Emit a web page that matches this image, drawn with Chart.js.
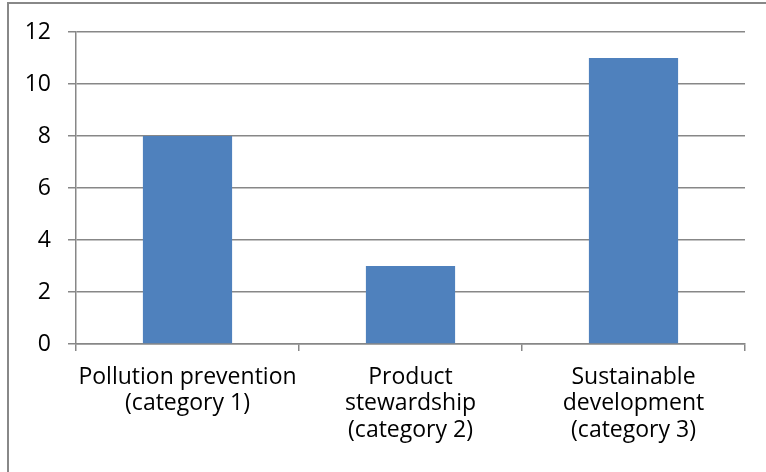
<!DOCTYPE html>
<html>
<head>
<meta charset="utf-8">
<script src="https://cdn.jsdelivr.net/npm/chart.js@4"></script>
<style>
html,body{margin:0;padding:0;background:#fff;}
#wrap{position:relative;width:766px;height:472px;}
#frame{position:absolute;left:7px;top:2px;width:800px;height:500px;border-left:2px solid #888;border-top:2px solid #888;box-sizing:border-box;}
canvas{position:absolute;left:0;top:0;}
</style>
</head>
<body>
<div id="wrap">
<div id="frame"></div>
<canvas id="c" width="766" height="472"></canvas>
</div>
<script>
const categories = [
  ["Pollution prevention", "(category 1)"],
  ["Product", "stewardship", "(category 2)"],
  ["Sustainable", "development", "(category 3)"]
];
const values = [8, 3, 11];
const yTicks = [0, 2, 4, 6, 8, 10, 12];

const gray = '#878787';
const fnt = { family: '"Open Sans", "Noto Sans", sans-serif', size: 23, lineHeight: 26.5 / 23 };
new Chart(document.getElementById('c'), {
  type: 'bar',
  data: {
    labels: categories,
    datasets: [{
      data: values,
      backgroundColor: '#4F81BD',
      borderWidth: 0,
      categoryPercentage: 1.0,
      barPercentage: 0.4
    }]
  },
  options: {
    responsive: false,
    animation: false,
    devicePixelRatio: 1,
    layout: { padding: { top: 32, right: 21, left: 0, bottom: 0 } },
    plugins: { legend: { display: false }, tooltip: { enabled: false } },
    scales: {
      x: {
        grid: { drawOnChartArea: false, drawTicks: true, tickLength: 7, color: gray, lineWidth: 1.5 },
        border: { color: gray, width: 1.5 },
        ticks: { color: '#000', font: fnt, padding: 13, maxRotation: 0, autoSkip: false },
        afterFit: s => { s.height = 128; }
      },
      y: {
        min: 0, max: 12,
        afterBuildTicks: s => { s.ticks = yTicks.map(v => ({ value: v })); },
        grid: { color: gray, lineWidth: 1.5, drawTicks: true, tickLength: 8 },
        border: { color: gray, width: 1.5 },
        ticks: { color: '#000', font: fnt, padding: 17 },
        afterFit: s => { s.width = 76; }
      }
    }
  }
});
</script>
</body>
</html>
